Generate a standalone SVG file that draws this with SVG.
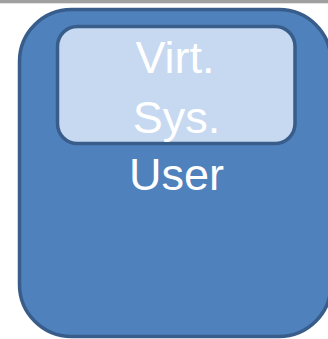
<svg xmlns="http://www.w3.org/2000/svg" width="328" height="339" viewBox="0 0 328 339">
<style>
.box{stroke:#385D8A;stroke-width:3.5}
.lbl{font-family:"Liberation Sans",Arial,sans-serif;font-size:45px;fill:#FFFFFF;text-anchor:middle}
</style>
<rect x="0" y="0" width="328" height="3.3" fill="#A0A0A0"/>
<g id="user">
<rect class="box" x="19.5" y="9.5" width="311.5" height="327" rx="52" ry="52" fill="#4F81BD"/>
<text class="lbl" x="176.5" y="190">User</text>
</g>
<g id="virt-sys">
<rect class="box" x="57.5" y="26.5" width="237.5" height="117" rx="20" ry="20" fill="#C6D9F1"/>
<text class="lbl" x="175" y="73.3">Virt.</text>
<text class="lbl" x="176.5" y="132.7">Sys.</text>
</g>
<g id="connectors"/>
</svg>
